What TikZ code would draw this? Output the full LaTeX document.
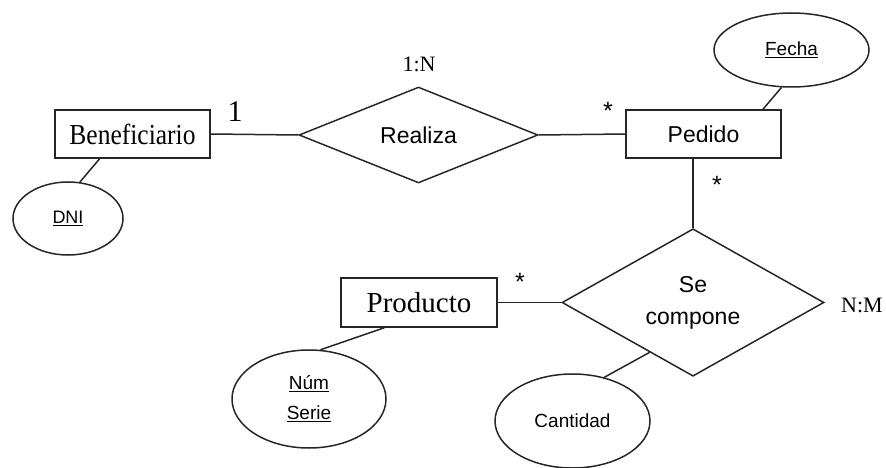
\documentclass[tikz,border=0pt]{standalone}
\usepackage{fontspec}
\setmainfont{Liberation Serif}
\setsansfont{Liberation Sans}
\usetikzlibrary{shapes.geometric,calc}
\tikzset{
  conn/.style={line width=1.5pt, draw=black!85},
  entbox/.style={draw=black!85, line width=1.5pt, rectangle, inner sep=0pt, font=\rmfamily\fontsize{29}{32}\selectfont},
  relbox/.style={draw=black!85, line width=1.5pt, diamond, inner sep=0pt, align=center, font=\sffamily\fontsize{23}{32}\selectfont},
  attrbox/.style={draw=black!85, line width=1.5pt, ellipse, inner sep=0pt, align=center, font=\sffamily\fontsize{19}{30}\selectfont},
  card/.style={inner sep=0pt, font=\rmfamily\fontsize{22}{24}\selectfont},
  star/.style={inner sep=0pt, font=\sffamily\fontsize{25}{25}\selectfont}
}
\begin{document}
\begin{tikzpicture}[x=1pt,y=-1pt]
\useasboundingbox (0,0) rectangle (886,468);
% entities
\node[entbox, minimum width=155pt, minimum height=48pt] (ben) at (132.5,134) {\scalebox{0.88}[1]{Beneficiario}};
\node[entbox, minimum width=155pt, minimum height=48pt, font=\sffamily\fontsize{23}{24}\selectfont] (ped) at (703.5,134) {Pedido};
\node[entbox, minimum width=156pt, minimum height=49pt] (prod) at (419,302.5) {Producto};
% relationships
\node[relbox, minimum width=239pt, minimum height=96pt] (real) at (418.5,135) {Realiza};
\node[relbox, minimum width=262pt, minimum height=143pt] (sec) at (693,302.5) {Se\\compone};
% attributes
\node[attrbox, minimum width=110pt, minimum height=73pt, font=\sffamily\fontsize{18}{24}\selectfont] (dni) at (68,218.5) {\underline{DNI}};
\node[attrbox, minimum width=155pt, minimum height=74pt] (fecha) at (791.5,50) {\underline{Fecha}};
\node[attrbox, minimum width=154pt, minimum height=98pt] (ns) at (309,399) {\underline{Núm}\\\underline{Serie}};
\node[attrbox, minimum width=155pt, minimum height=94pt] (cant) at (572.5,421) {Cantidad};
% labels
\node[card, font=\rmfamily\fontsize{30}{32}\selectfont] (l1) at (235,112) {1};
\node[card] (l1n) at (419,64) {1:N};
\node[card] (lnm) at (862,305) {N:M};
\node[star] (s1) at (608,111) {*};
\node[star] (s2) at (717,185) {*};
\node[star] (s3) at (520,282) {*};
% connectors
\draw[conn] (ben.east) -- (real.west);
\draw[conn] (real.east) -- (ped.west);
\draw[conn] (ped.south -| sec.north) -- (sec.north);
\draw[conn] (prod.east) -- (sec.west);
\draw[conn] ($(ben.south west)!0.29!(ben.south east)$) -- (dni.72);
\draw[conn] ($(ped.north west)!0.88!(ped.north east)$) -- (fecha.-105);
\draw[conn] ($(prod.south west)!0.28!(prod.south east)$) -- (ns.77);
\draw[conn] ($(sec.west)!0.67!(sec.south)$) -- (cant.54);
\end{tikzpicture}
\end{document}
